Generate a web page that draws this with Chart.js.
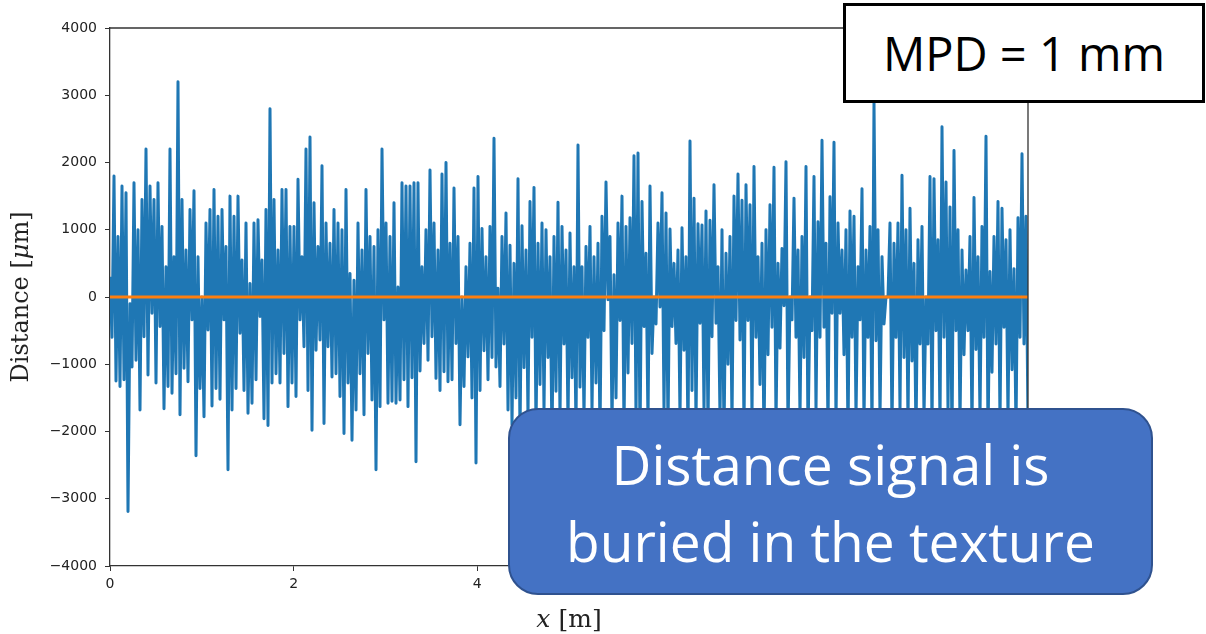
<!DOCTYPE html>
<html>
<head>
<meta charset="utf-8">
<script src="https://cdn.jsdelivr.net/npm/chart.js@4.4.0/dist/chart.umd.min.js"></script>
<style>
    html, body { margin: 0; padding: 0; background: #fff; }
    #wrap { position: relative; width: 1206px; height: 634px; overflow: hidden; }
    #myChart { position: absolute; left: 0; top: 0; }
    .mpd {
        position: absolute; left: 843px; top: 3px; width: 356px; height: 94px;
        border: 3px solid #000; background: #fff; color: #000;
        font-family: 'Open Sans', sans-serif; font-size: 47px;
        display: flex; align-items: center; justify-content: center;
    }
    .note {
        position: absolute; left: 508px; top: 408px; width: 641px; height: 183px;
        box-sizing: content-box; padding-top: 0;
        border: 2px solid #2f528f; border-radius: 30px; background: #4472c4; color: #fff;
        font-family: 'Open Sans', sans-serif; font-size: 55px; line-height: 77px; text-align: center;
    }
    .note div:first-child { margin-top: 15px; }
</style>
</head>
<body>
<div id="wrap">
    <canvas id="myChart" width="1206" height="634"></canvas>
    <div class="mpd">MPD = 1 mm</div>
    <div class="note"><div>Distance signal is</div><div>buried in the texture</div></div>
</div>
<script>
    // upper turning points of the profile, left to right (um)
    const peaks = [
        300, 1800, 900, 1650, 1550, -100, 1700, 1000, 1450, 2200,
        1650, 1450, 1700, 1050, 450, 2200, 600, 3200, 1450, 700,
        1300, 1580, 600, 0, 1100, 1300, 1600, 1200, 1300, 750,
        1500, 1200, 1500, 550, 1100, 200, 1100, 1150, 550, 1300,
        2800, 1450, 700, 1600, 1600, 1050, 1050, 1750, 600, 2200,
        2380, 1400, 750, 1950, 1100, 800, 1300, 1100, 1000, 1600,
        350, 250, 1100, 700, 1600, 900, 750, 1000, 2200, 1100,
        900, 1400, 150, 1700, 1650, 1650, 1700,
        1700, 450, 1000, 1890, 1100, 700, 1830, 2000, 800, 1620,
        900, 0, 450, 800, 1620, 1790, 1020, 600, 1050, 2360,
        130, 900, 1250, 770, 500, 1760, 1060, 700, 1420, 1630,
        800, 1100, 1000, 600, 900, 1410, 1050, 700, 950, 450,
        2260, 450, 750, 1050, 600, 800, 1200, 1710, 900, 330,
        1100, 1500, 1050, 1180, 2100, 2140, 1420, 650, 1650, 0,
        1100, 1550, 1250, 1010, 500, 700, 1030, 600, 2320, 1470,
        1090, 1070, 1280, 1140, 1670, 450, 1000, 650, 900, 1500,
        1830, 1440, 1670, 1370, 1940, 600, 800, 1000, 1370, 1930,
        500, 720, 2010, 0, 1470, 700, 900, 1940, 0, 1790,
        1120,
        2330, 800, 1490, 2300, 1100, 700, 1000, 1280, 1200, 450,
        1610, 700, 1050, 2900, 1000, 600, 0, 1100, 800, 1100,
        1810, 1000, 1320, 500, 850, 1050, 0, 1790, 1760, 850,
        2530, 1710, 1340, 2180, 1000, 700, 400, 900, 1480, 600,
        1050, 2390, 380, 900, 1420, 1320, 850, 1000, 420, 1180,
        2130, 1200
    ];
    // lower turning points, one after each peak (um)
    const troughs = [
        -600, -1250, -1330, -1230, -3190, -1040, -940, -1680, -590, -1160,
        -240, -1280, -440, -1660, -1330, -1430, -1140, -1750, -1060, -1260,
        -340, -2360, -1360, -1780, -490, -1620, -1360, -1520, -340, -2570,
        -1680, -1360, -540, -1390, -1730, -1580, -1230, -290, -1810, -1910,
        -1280, -1140, -1280, -840, -1630, -1280, -1480, -340, -740, -1390,
        -1980, -790, -640, -1880, -740, -1190, -1140, -1480, -2030, -1280,
        -2130, -1680, -1140, -1750, -840, -1530, -2570, -1630, -340, -1580,
        -1550, -1580, -1530, -1230, -1630, -1200, -2450,
        -1100, -690, -940, -590, -1210, -1390, -1110, -1260, -1230, -690,
        -1900, -1330, -890, -1500, -2470, -1390, -800, -1230, -900, -1040,
        -1330, -700, -1680,
        -1900, -1500, -2100, -1050, -1800, -600, -2000, -1300, -1700, -900,
        -2200, -1400, -1800, -700, -1900, -1200, -2000, -1340, -1800, -600,
        -1700, -1280, -2100, -500, -40, -1900, -1500, -350, -2000, -1130,
        -690, -1800, -2200, -440, -1900, -840, -400, -150, -1700, -2000,
        -440, -690, -1800, -790, -2100, -1390, -1900, -390, -1700, -2000,
        -590, -390, -1800, -2100, -1000, -1900, -350, -640, -2000, -350,
        -1800, -600, -1300, -2200, -860, -450, -1900, -760, -130, -2000,
        -340, -600, -1800, -900, -2100, -500, -1700, -600, -450, -2000,
        -240, -1900, -240, -860, -2100, -600, -1800, -340, -1900, -600,
        -2000, -650, -1800, -400, 0, -2000, -600, -1700, -900, -1900,
        -950, -2100, -700, -1800, -700, -2000, -500, -1900, -600, -1700,
        -2200, -500, -1900, -860, -500, -2000, -780, -1800, -600, -2100,
        -1120, -700, -1900, -450, -1800, -1080, -2000, -600, -700, -1900
    ];
    const xLength = 10;
    const yTicks = [-4000, -3000, -2000, -1000, 0, 1000, 2000, 3000, 4000];
    const xTicks = [0, 2, 4, 6, 8, 10];

    const n = Math.min(peaks.length, troughs.length);
    const dx = xLength / (n - 0.5);
    let trace = [];
    for (let i = 0; i < n; i++) {
        trace.push({x: i * dx, y: peaks[i]});
        trace.push({x: (i + 0.5) * dx, y: troughs[i]});
    }
    let meanLine = [{x: 0, y: 0}, {x: xLength, y: 0}];

    const frame = {
        id: 'frame',
        afterDraw(chart) {
            const c = chart.ctx;
            const a = chart.chartArea;
            c.save();
            c.strokeStyle = '#333';
            c.lineWidth = 1.3;
            c.beginPath();
            c.moveTo(a.left, a.top);
            c.lineTo(a.right, a.top);
            c.lineTo(a.right, a.bottom);
            c.stroke();

            // x title: "x [m]" with italic x
            c.fillStyle = '#222';
            c.textBaseline = 'alphabetic';
            c.textAlign = 'left';
            let fItal = 'italic 25px "DejaVu Serif"';
            let fNorm = '25px "DejaVu Serif"';
            c.font = fItal;
            let w1 = c.measureText('x').width;
            c.font = fNorm;
            let w2 = c.measureText(' [m]').width;
            let x0 = (a.left + a.right) / 2 - (w1 + w2) / 2;
            c.font = fItal;
            c.fillText('x', x0, 627);
            c.font = fNorm;
            c.fillText(' [m]', x0 + w1, 627);

            // y title: "Distance [μm]" with italic mu
            c.translate(28, (a.top + a.bottom) / 2);
            c.rotate(-Math.PI / 2);
            let parts = [['Distance [', '24px "DejaVu Serif"'], ['\u03bc', 'italic 24px "DejaVu Serif"'], ['m]', '24px "DejaVu Serif"']];
            let total = 0;
            parts.forEach(p => { c.font = p[1]; total += c.measureText(p[0]).width; });
            let px = -total / 2;
            parts.forEach(p => {
                c.font = p[1];
                c.fillText(p[0], px, 0);
                px += c.measureText(p[0]).width;
            });
            c.restore();
        }
    };

    const ctx = document.getElementById('myChart');
    const chart = new Chart(ctx, {
        type: 'line',
        data: {
            datasets: [{
                    label: 'distance',
                    data: trace,
                    order: 2,
                    borderColor: '#1f77b4',
                    borderWidth: 3,
                    borderJoinStyle: 'round',
                    pointRadius: 0,
                    tension: 0,
                    fill: false
                }, {
                    label: 'mean',
                    data: meanLine,
                    order: 1,
                    borderColor: '#ff7f0e',
                    borderWidth: 3,
                    pointRadius: 0,
                    fill: false
                }]
        },
        options: {
            responsive: false,
            animation: false,
            events: [],
            layout: {padding: {left: 0, right: 178, top: 28, bottom: 0}},
            plugins: {legend: {display: false}, tooltip: {enabled: false}},
            scales: {
                x: {
                    type: 'linear',
                    min: 0,
                    max: xLength,
                    afterBuildTicks: s => { s.ticks = xTicks.map(v => ({value: v})); },
                    afterFit: s => { s.height = 68; },
                    grid: {display: true, drawOnChartArea: false, drawTicks: true, tickLength: 5, color: '#333'},
                    border: {display: true, color: '#333', width: 1.3},
                    ticks: {color: '#222', padding: 5, maxRotation: 0, font: {family: 'DejaVu Sans', size: 14}}
                },
                y: {
                    min: -4000,
                    max: 4000,
                    afterBuildTicks: s => { s.ticks = yTicks.map(v => ({value: v})); },
                    afterFit: s => { s.width = 110; },
                    grid: {display: true, drawOnChartArea: false, drawTicks: true, tickLength: 5, color: '#333'},
                    border: {display: true, color: '#333', width: 1.3},
                    ticks: {color: '#222', padding: 8, font: {family: 'DejaVu Sans', size: 14}, callback: v => v < 0 ? '\u2212' + Math.abs(v) : String(v)}
                }
            }
        },
        plugins: [frame]
    });
</script>
</body>
</html>
